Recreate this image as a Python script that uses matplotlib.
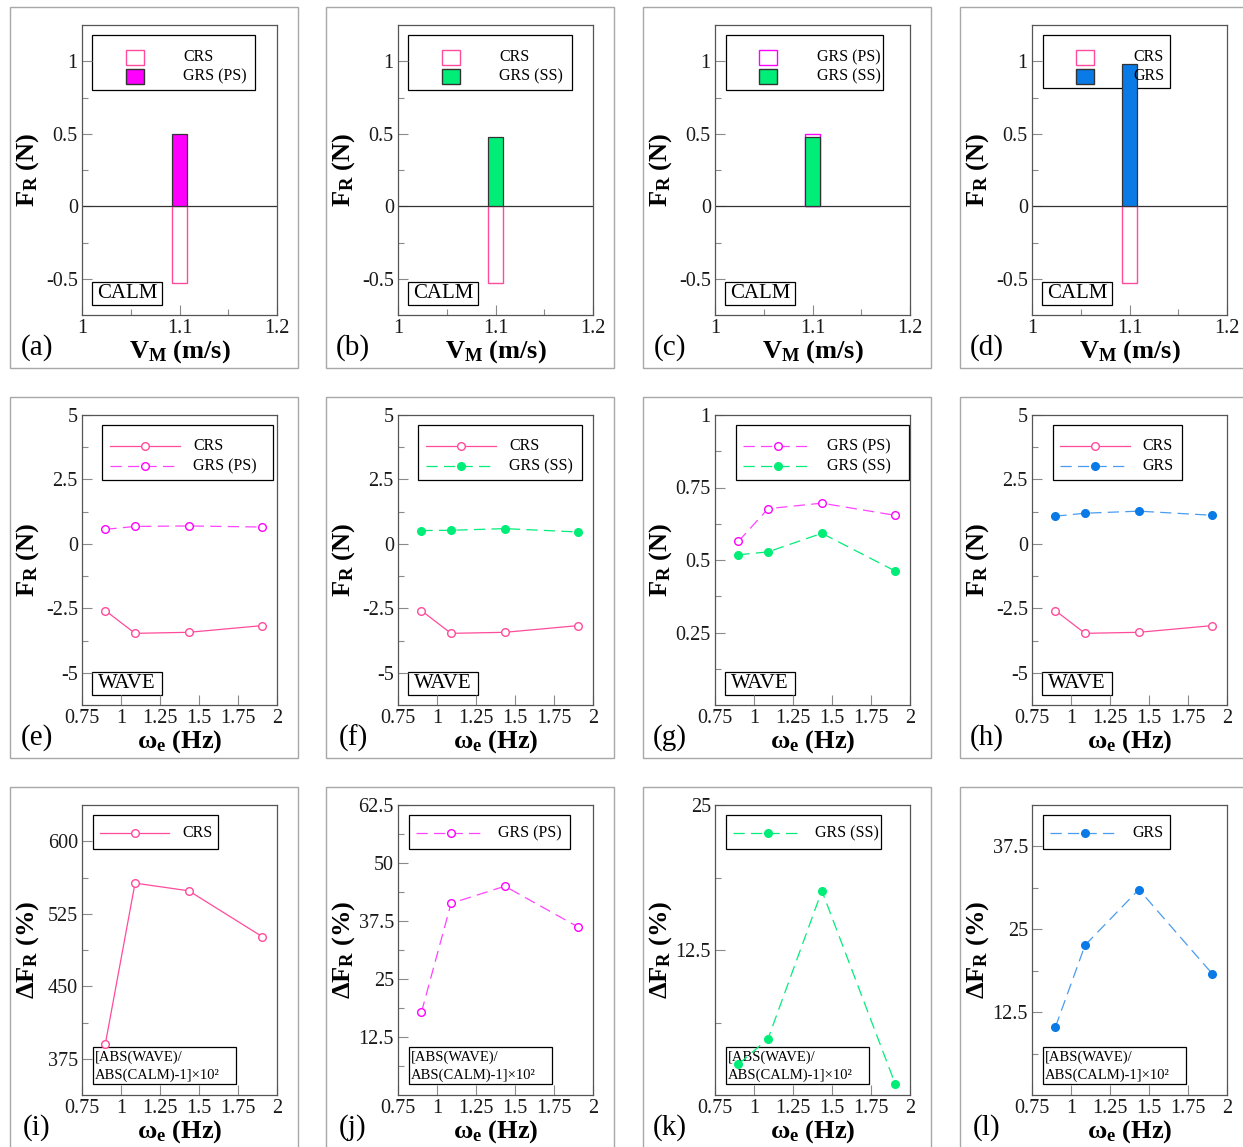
import matplotlib
matplotlib.use('Agg')
import matplotlib.pyplot as plt
from matplotlib.patches import Rectangle

plt.rcParams['font.family'] = ['Liberation Serif', 'DejaVu Serif']
plt.rcParams['mathtext.fontset'] = 'custom'
plt.rcParams['mathtext.rm'] = 'Liberation Serif'
plt.rcParams['mathtext.it'] = 'Liberation Serif:italic'
plt.rcParams['mathtext.bf'] = 'Liberation Serif:bold'

# calm water, one towing speed
speed = [1.1]
calm_crs = [-0.53]
calm_ps = [0.50]
calm_ss = [0.48]
calm_grs = [0.98]

# regular waves vs encounter frequency
freq = [0.9, 1.09, 1.435, 1.905]
wave_crs = [-2.59, -3.47, -3.43, -3.17]
wave_ps = [0.564, 0.677, 0.696, 0.654]
wave_ss = [0.518, 0.528, 0.592, 0.462]
wave_grs = [1.075, 1.19, 1.27, 1.11]

# change of |F_R| in waves relative to calm water (%)
d_crs = [390.7, 556.7, 548.7, 501.3]
d_ps = [17.8, 41.3, 45.0, 36.2]
d_ss = [2.66, 4.85, 17.6, 0.96]
d_grs = [10.24, 22.6, 31.0, 18.3]

speed_ticks = [1, 1.1, 1.2]
speed_labels = ['1', '1.1', '1.2']
freq_ticks = [0.75, 1, 1.25, 1.5, 1.75, 2]
freq_labels = ['0.75', '1', '1.25', '1.5', '1.75', '2']

CRS_C = '#ff4b9b'
PS_C = '#ff00ff'
PS_LINE = '#ff44ff'
SS_C = '#00ee78'
GRS_C = '#0a7ae6'
GRS_LINE = '#4a9cef'
DASH = (0, (9, 5))

W, H = 1243, 1147
fig = plt.figure(figsize=(W / 100, H / 100), dpi=100)

col_x = [82, 398, 715, 1032]
row_y = [25, 415, 805]
aw, ah = 195, 290


def fx(dx):
    return dx / aw


def fy(dy):
    return 1 - dy / ah


def make_ax(r, c, tag, xlab, ylab):
    x0, y0 = col_x[c], row_y[r]
    fig.patches.append(Rectangle(((x0 - 72) / W, 1 - (y0 + ah + 53) / H),
                                 (aw + 93) / W, (ah + 71) / H,
                                 transform=fig.transFigure, fill=False,
                                 ec='#a8a8a8', lw=1))
    ax = fig.add_axes([x0 / W, 1 - (y0 + ah) / H, aw / W, ah / H])
    for s in ax.spines.values():
        s.set_color('#555555')
        s.set_linewidth(0.9)
    ax.tick_params(which='both', direction='in', color='#8a8a8a',
                   labelcolor='#1a1a1a', labelsize=14.5, pad=3)
    ax.tick_params(which='major', length=7, width=0.8)
    ax.tick_params(which='minor', length=4, width=0.8)
    ax.text(fx(-45), fy(ah + 33), tag, transform=ax.transAxes,
            fontsize=21, ha='center', va='center')
    ax.text(0.5, fy(ah + 43), xlab, transform=ax.transAxes, fontsize=19,
            fontweight='bold', ha='center', va='baseline')
    ax.text(fx(-54), 0.5, ylab, transform=ax.transAxes, fontsize=19,
            fontweight='bold', rotation=90, ha='center', va='center')
    return ax


def set_y(ax, lim, major, labels, minor):
    ax.set_ylim(*lim)
    ax.set_yticks(major)
    ax.set_yticklabels(labels)
    ax.set_yticks(minor, minor=True)


def set_x(ax, lim, major, labels, minor=()):
    ax.set_xlim(*lim)
    ax.set_xticks(major)
    ax.set_xticklabels(labels)
    ax.set_xticks(list(minor), minor=True)


def box(ax, x0, x1, y0, y1):
    ax.add_patch(Rectangle((fx(x0), fy(y1)), (x1 - x0) / aw, (y1 - y0) / ah,
                           transform=ax.transAxes, fc='white', ec='black',
                           lw=0.9, zorder=1, clip_on=False))


def key_text(ax, x, dy, s, size=11.5):
    ax.text(fx(x), fy(dy), s, transform=ax.transAxes, fontsize=size,
            ha='left', va='center', zorder=5)


def key_bar(ax, dy, fc, ec, label, tx=101):
    ax.add_patch(Rectangle((fx(44), fy(dy + 7.5)), 18 / aw, 15 / ah,
                           transform=ax.transAxes, fc=fc, ec=ec, lw=1,
                           zorder=2))
    key_text(ax, tx, dy, label)


def key_line(ax, x0, x1, dy, color, ls, mfc, label, tx, mec=None):
    ax.plot([fx(x0), fx(x1)], [fy(dy), fy(dy)], transform=ax.transAxes,
            color=color, ls=ls, lw=0.9, zorder=4, clip_on=False)
    ax.plot([fx((x0 + x1) / 2)], [fy(dy)], transform=ax.transAxes,
            marker='o', ms=5.5, mec=mec or color, mfc=mfc, ls='none',
            zorder=4, clip_on=False)
    key_text(ax, tx, dy, label)


def tag_box(ax, s):
    box(ax, 10, 80, 257, 280)
    ax.text(fx(45), fy(268.5), s, transform=ax.transAxes, fontsize=15,
            ha='center', va='center', zorder=2)


def formula_box(ax):
    box(ax, 11, 154, 242, 279)
    ax.text(fx(13), fy(252), '[ABS(WAVE)/', transform=ax.transAxes,
            fontsize=10.5, ha='left', va='center', zorder=2)
    ax.text(fx(13), fy(270), 'ABS(CALM)-1]\u00d710\u00b2',
            transform=ax.transAxes, fontsize=10.5, ha='left', va='center',
            zorder=2)


lab_v = r'$\mathbf{V_M}$ (m/s)'
lab_w = r'$\mathbf{\omega_e}$ (Hz)'
lab_f = r'$\mathbf{F_R}$ (N)'
lab_d = r'$\mathbf{\Delta F_R}$ (%)'
bw = 0.015

# ---- row 1: calm water bars
calm_y = ((-0.75, 1.25), [-0.5, 0, 0.5, 1], ['-0.5', '0', '0.5', '1'],
          [-0.25, 0.25, 0.75])
for c, tag in enumerate(['(a)', '(b)', '(c)', '(d)']):
    ax = make_ax(0, c, tag, lab_v, lab_f)
    set_x(ax, (1, 1.2), speed_ticks, speed_labels, [1.05, 1.15])
    set_y(ax, *calm_y)
    ax.axhline(0, color='#333333', lw=0.9, zorder=2)
    tag_box(ax, 'CALM')
    if c == 0:
        ax.bar(speed, calm_crs, bw, fc='white', ec=CRS_C, lw=1, zorder=3)
        ax.bar(speed, calm_ps, bw, fc=PS_C, ec='#333333', lw=0.9, zorder=3)
        box(ax, 10, 173, 10, 65)
        key_bar(ax, 32, 'white', CRS_C, 'CRS')
        key_bar(ax, 51, PS_C, '#333333', 'GRS (PS)')
    elif c == 1:
        ax.bar(speed, calm_crs, bw, fc='white', ec=CRS_C, lw=1, zorder=3)
        ax.bar(speed, calm_ss, bw, fc=SS_C, ec='#333333', lw=0.9, zorder=3)
        box(ax, 10, 174, 10, 65)
        key_bar(ax, 32, 'white', CRS_C, 'CRS')
        key_bar(ax, 51, SS_C, '#333333', 'GRS (SS)')
    elif c == 2:
        ax.bar(speed, calm_ps, bw, fc='white', ec=PS_C, lw=1, zorder=3)
        ax.bar(speed, calm_ss, bw, fc=SS_C, ec='#333333', lw=0.9, zorder=3)
        box(ax, 11, 168, 10, 65)
        key_bar(ax, 32, 'white', PS_C, 'GRS (PS)', tx=102)
        key_bar(ax, 51, SS_C, '#333333', 'GRS (SS)', tx=102)
    else:
        ax.bar(speed, calm_crs, bw, fc='white', ec=CRS_C, lw=1, zorder=3)
        ax.bar(speed, calm_grs, bw, fc=GRS_C, ec='#333333', lw=0.9, zorder=3)
        box(ax, 11, 138, 10, 63)
        key_bar(ax, 32, 'white', CRS_C, 'CRS')
        key_bar(ax, 51, GRS_C, '#333333', 'GRS')

# ---- row 2: forces in waves
big_y = ((-6.25, 5), [-5, -2.5, 0, 2.5, 5], ['-5', '-2.5', '0', '2.5', '5'],
         [-3.75, -1.25, 1.25, 3.75])
small_y = ((0, 1), [0.25, 0.5, 0.75, 1], ['0.25', '0.5', '0.75', '1'],
           [0.125, 0.375, 0.625, 0.875])
crs_kw = dict(color=CRS_C, lw=0.9, marker='o', ms=5.5, mfc='white',
              mec=CRS_C, zorder=3)
ps_kw = dict(color=PS_LINE, lw=0.9, ls=DASH, marker='o', ms=5.5,
             mfc='white', mec=PS_C, zorder=3)
ss_kw = dict(color=SS_C, lw=0.9, ls=DASH, marker='o', ms=5.5, mfc=SS_C,
             mec=SS_C, zorder=3)
grs_kw = dict(color=GRS_LINE, lw=0.9, ls=DASH, marker='o', ms=5.5,
              mfc=GRS_C, mec=GRS_C, zorder=3)

for c, tag in enumerate(['(e)', '(f)', '(g)', '(h)']):
    ax = make_ax(1, c, tag, lab_w, lab_f)
    set_x(ax, (0.75, 2), freq_ticks, freq_labels)
    tag_box(ax, 'WAVE')
    if c == 0:
        set_y(ax, *big_y)
        ax.plot(freq, wave_crs, **crs_kw)
        ax.plot(freq, wave_ps, **ps_kw)
        box(ax, 20, 191, 10, 65)
        key_line(ax, 28, 98, 31, CRS_C, '-', 'white', 'CRS', 111)
        key_line(ax, 28, 98, 51, PS_LINE, DASH, 'white', 'GRS (PS)', 111, PS_C)
    elif c == 1:
        set_y(ax, *big_y)
        ax.plot(freq, wave_crs, **crs_kw)
        ax.plot(freq, wave_ss, **ss_kw)
        box(ax, 20, 184, 10, 65)
        key_line(ax, 28, 98, 31, CRS_C, '-', 'white', 'CRS', 111)
        key_line(ax, 28, 98, 51, SS_C, DASH, SS_C, 'GRS (SS)', 111)
    elif c == 2:
        set_y(ax, *small_y)
        ax.plot(freq, wave_ps, **ps_kw)
        ax.plot(freq, wave_ss, **ss_kw)
        box(ax, 21, 194, 10, 65)
        key_line(ax, 28, 98, 31, PS_LINE, DASH, 'white', 'GRS (PS)', 112, PS_C)
        key_line(ax, 28, 98, 51, SS_C, DASH, SS_C, 'GRS (SS)', 112)
    else:
        set_y(ax, *big_y)
        ax.plot(freq, wave_crs, **crs_kw)
        ax.plot(freq, wave_grs, **grs_kw)
        box(ax, 21, 150, 10, 65)
        key_line(ax, 28, 98, 31, CRS_C, '-', 'white', 'CRS', 110)
        key_line(ax, 28, 98, 51, GRS_LINE, DASH, GRS_C, 'GRS', 110, GRS_C)

# ---- row 3: relative change
rows3 = [
    ('(i)', d_crs, crs_kw, ((337.5, 637.5), [375, 450, 525, 600],
                            ['375', '450', '525', '600'], [412.5, 487.5, 562.5]),
     136, (CRS_C, '-', 'white', 'CRS', CRS_C)),
    ('(j)', d_ps, ps_kw, ((0, 62.5), [12.5, 25, 37.5, 50, 62.5],
                          ['12.5', '25', '37.5', '50', '62.5'],
                          [6.25, 18.75, 31.25, 43.75, 56.25]),
     172, (PS_LINE, DASH, 'white', 'GRS (PS)', PS_C)),
    ('(k)', d_ss, ss_kw, ((0, 25), [12.5, 25], ['12.5', '25'], [6.25, 18.75]),
     166, (SS_C, DASH, SS_C, 'GRS (SS)', SS_C)),
    ('(l)', d_grs, grs_kw, ((0, 43.75), [12.5, 25, 37.5],
                            ['12.5', '25', '37.5'], [6.25, 18.75, 31.25]),
     138, (GRS_LINE, DASH, GRS_C, 'GRS', GRS_C)),
]
for c, (tag, vals, kw, ycfg, right, key) in enumerate(rows3):
    ax = make_ax(2, c, tag, lab_w, lab_d)
    set_x(ax, (0.75, 2), freq_ticks, freq_labels)
    set_y(ax, *ycfg)
    ax.plot(freq, vals, **kw)
    formula_box(ax)
    box(ax, 11, right, 10, 44)
    color, ls, mfc, label, mec = key
    key_line(ax, 18, 87, 28, color, ls, mfc, label, 100, mec)

fig.savefig('out.png', dpi=100)
